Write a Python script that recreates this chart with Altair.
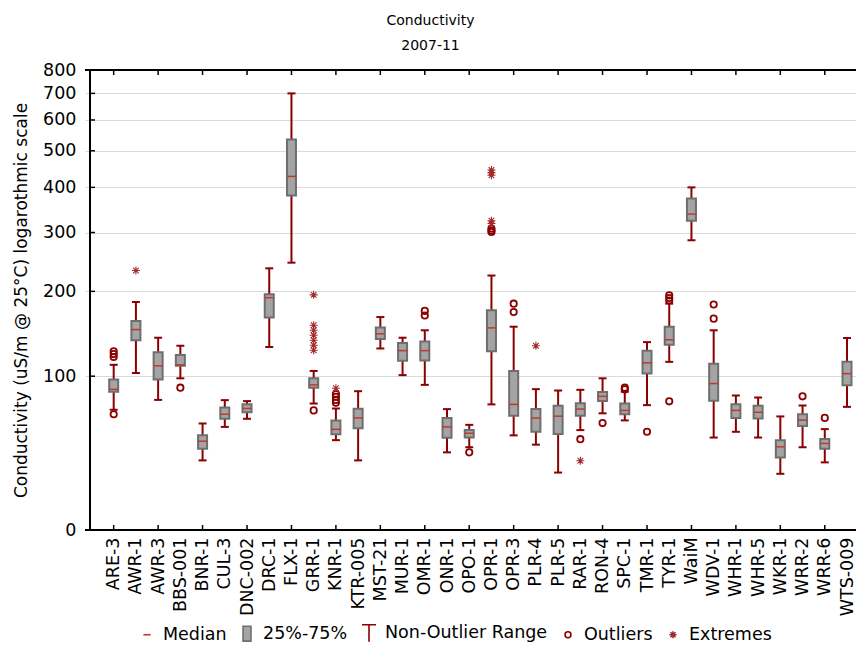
import altair as alt
import pandas as pd

# ---------------- data ----------------
cats = ["ARE-3", "AWR-1", "AWR-3", "BBS-001", "BNR-1", "CUL-3", "DNC-002", "DRC-1",
        "FLX-1", "GRR-1", "KNR-1", "KTR-005", "MST-21", "MUR-1", "OMR-1", "ONR-1",
        "OPO-1", "OPR-1", "OPR-3", "PLR-4", "PLR-5", "RAR-1", "RON-4", "SPC-1",
        "TMR-1", "TYR-1", "WaiM", "WDV-1", "WHR-1", "WHR-5", "WKR-1", "WRR-2",
        "WRR-6", "WTS-009"]

lo = [71, 103, 79, 98, 35.7, 58, 64, 129.6,
      245, 76, 48.7, 35.7, 128, 101, 92, 40.7,
      44, 75.3, 52, 45.7, 28.5, 55.7, 68.2, 62.8,
      74.7, 114, 285, 50.5, 54.5, 50.5, 27.8, 44,
      34.5, 73.3]
q1 = [86, 137, 97, 110, 43, 64, 69, 164.4,
      380, 89.5, 52.8, 57, 138.6, 115, 115.3, 50.3,
      50.5, 125, 66.3, 54.5, 53, 66.3, 78, 67.5,
      102.5, 132, 324, 78.3, 64.7, 64.2, 37.5, 58.6,
      43, 91.7]
med = [88, 149.5, 110, 111, 48, 67.5, 72, 191,
       428, 92, 56.2, 64.7, 144.5, 125.7, 125.7, 58,
       53.5, 151.6, 75.3, 64.5, 66, 71.5, 82, 70.5,
       113, 137.7, 338, 93.2, 70.5, 69, 44.3, 63,
       46.5, 102.4]
q3 = [97, 160, 124, 121, 52, 72.8, 75.4, 195.7,
      535, 98, 62.7, 71.7, 152, 134, 135.7, 64.7,
      55.7, 173.8, 105, 71.6, 74.1, 76.2, 85.8, 76,
      125.6, 153, 373, 112, 75.4, 74.1, 48.7, 67.5,
      49.5, 114]
hi = [111, 185, 140, 131, 60.5, 78.8, 78, 235.6,
      700, 105, 72, 86.4, 165, 140, 148.7, 71.5,
      59.5, 224, 153, 88.2, 87, 87.6, 98, 86,
      135, 182.7, 400, 148.7, 82.7, 81, 65.8, 74.4,
      56.4, 139.7]
outliers = [[125, 122, 119, 67.5], [], [], [89.5], [], [], [], [],
            [], [70.5], [84, 81.6, 79, 76.6], [], [], [], [173, 167], [],
            [40.7], [308, 304, 301], [182.7, 171.5], [], [], [49.4], [60.8], [89.5, 88],
            [54.5], [194.3, 190.5, 187, 77.8], [], [181.5, 163], [], [], [], [82],
            [64.7], []]
extremes = [[], [232], [], [], [], [], [], [],
            [], [195, 154.8, 148.7, 142.8, 137.1, 131.6, 126.1], [89], [], [], [], [], [],
            [], [445, 438, 431, 324, 318], [], [131], [], [35.5], [], [],
            [], [], [], [], [], [], [], [],
            [], []]

y_ticks = [0, 100, 200, 300, 400, 500, 600, 700, 800]
legend_items = ["Median", "25%-75%", "Non-Outlier Range", "Outliers", "Extremes"]

# ---------------- tables built from the arrays ----------------
box_df = pd.DataFrame({"idx": list(range(len(cats))), "site": cats,
                       "lo": lo, "q1": q1, "med": med, "q3": q3, "hi": hi})
out_df = pd.DataFrame([{"idx": i, "site": cats[i], "value": v}
                       for i, vs in enumerate(outliers) for v in vs])
ext_df = pd.DataFrame([{"idx": i, "site": cats[i], "value": v}
                       for i, vs in enumerate(extremes) for v in vs])
xtick_df = pd.DataFrame({"idx": list(range(0, len(cats), 2))})
ytick_df = pd.DataFrame({"v": y_ticks[1:-1]})
leg_df = pd.DataFrame({"item": legend_items})
frame_df = pd.DataFrame({"k": [0]})

# ---------------- styles ----------------
FONT = "DejaVu Sans"
DARK_RED = "#8b0000"
EXT_RED = "#a52a2a"
MED_RED = "#c0392b"
BOX_FILL = "#a4a4a4"
BOX_STROKE = "#6e6e6e"
ASTERISK = "M-1,0H1M0,-1V1M-0.7,-0.7L0.7,0.7M-0.7,0.7L0.7,-0.7"

xmin, xmax = -1.066, 33.18
xscale = alt.Scale(domain=[xmin, xmax], nice=False, zero=False)
yscale = alt.Scale(type="symlog", constant=83, domain=[0, 800], nice=False)

label_expr = "[" + ",".join("'%s'" % c for c in cats) + "][datum.value]"

x_axis = alt.Axis(values=list(range(len(cats))), labelExpr=label_expr, labelAngle=270,
                  labelFont=FONT, labelFontSize=17.5, labelColor="black", labelPadding=7,
                  labelOverlap=False, labelFlush=False, labelBound=False,
                  ticks=False, domain=False, grid=False, title=None)
y_axis = alt.Axis(values=y_ticks, format="d",
                  labelFont=FONT, labelFontSize=17.5, labelColor="black", labelPadding=9,
                  labelOverlap=False, labelFlush=False, labelBound=False,
                  ticks=False, domain=False,
                  grid=True, gridColor="#dadada", gridWidth=1.2,
                  title="Conductivity (uS/m @ 25°C) logarothmic scale",
                  titleFont=FONT, titleFontSize=17, titleFontWeight="normal",
                  titleColor="black", titlePadding=12)


def X():
    return alt.X("idx:Q", scale=xscale, axis=x_axis)


def Y(field):
    return alt.Y(field, type="quantitative", scale=yscale, axis=y_axis)


def YD(v):
    return alt.YDatum(v, type="quantitative", scale=yscale, axis=y_axis)


def XD(v):
    return alt.XDatum(v, type="quantitative", scale=xscale, axis=x_axis)


# frame (left, top, bottom) and inward ticks
frame_top = alt.Chart(frame_df).mark_rule(color="black", strokeWidth=2).encode(y=YD(800))
frame_bottom = alt.Chart(frame_df).mark_rule(color="black", strokeWidth=2).encode(y=YD(0))
frame_left = alt.Chart(frame_df).mark_rule(color="black", strokeWidth=2).encode(x=XD(xmin))
ticks_top = alt.Chart(xtick_df).mark_tick(orient="vertical", size=5, thickness=1.5,
                                          color="black", opacity=1, yOffset=2.5).encode(
    x=X(), y=YD(800))
ticks_bottom = alt.Chart(xtick_df).mark_tick(orient="vertical", size=5, thickness=1.5,
                                             color="black", opacity=1, yOffset=-2.5).encode(
    x=X(), y=YD(0))
ticks_left = alt.Chart(ytick_df).mark_tick(orient="horizontal", size=5, thickness=1.5,
                                           color="black", opacity=1, xOffset=2.5).encode(
    x=XD(xmin), y=Y("v"))

whisk = alt.Chart(box_df).mark_rule(color=DARK_RED, strokeWidth=2).encode(
    x=X(), y=Y("lo"), y2="hi")
cap_lo = alt.Chart(box_df).mark_tick(orient="horizontal", size=8, thickness=2,
                                     color=DARK_RED, opacity=1).encode(x=X(), y=Y("lo"))
cap_hi = alt.Chart(box_df).mark_tick(orient="horizontal", size=8, thickness=2,
                                     color=DARK_RED, opacity=1).encode(x=X(), y=Y("hi"))
boxes = alt.Chart(box_df).mark_bar(size=9, color=BOX_FILL, stroke=BOX_STROKE,
                                   strokeWidth=2, opacity=1).encode(
    x=X(), y=Y("q1"), y2="q3")
medians = alt.Chart(box_df).mark_tick(orient="horizontal", size=9, thickness=1.5,
                                      color=MED_RED, opacity=1).encode(x=X(), y=Y("med"))
outs = alt.Chart(out_df).mark_point(shape="circle", filled=False, size=40, strokeWidth=1.8,
                                    color=DARK_RED, opacity=1).encode(x=X(), y=Y("value"))
exts = alt.Chart(ext_df).mark_point(shape=ASTERISK, filled=False, size=64, strokeWidth=1.1,
                                    color=EXT_RED, opacity=1).encode(x=X(), y=Y("value"))

leg_paths = ["M-0.4,0H0.4",
             "M-0.44,-0.83H0.44V0.83H-0.44Z",
             "M-0.78,-0.94H0.78M0,-0.94V0.94",
             "M0.33,0A0.33,0.33,0,1,1,-0.33,0A0.33,0.33,0,1,1,0.33,0Z",
             "M-0.4,0H0.4M0,-0.4V0.4M-0.28,-0.28L0.28,0.28M-0.28,0.28L0.28,-0.28"]
leg_fill = ["transparent", BOX_FILL, "transparent", "transparent", "transparent"]
leg_stroke = [MED_RED, BOX_STROKE, DARK_RED, DARK_RED, EXT_RED]
legend = alt.Legend(orient="none", legendX=52, legendY=553, direction="horizontal",
                    title=None, labelFont=FONT, labelFontSize=17.5, labelColor="black",
                    labelLimit=0, symbolSize=324, symbolStrokeWidth=1.6, labelOffset=6,
                    columnPadding=10, symbolOpacity=1)
leg = alt.Chart(leg_df).mark_point(opacity=0).encode(
    shape=alt.Shape("item:N", sort=legend_items,
                    scale=alt.Scale(domain=legend_items, range=leg_paths), legend=legend),
    fill=alt.Fill("item:N", sort=legend_items,
                  scale=alt.Scale(domain=legend_items, range=leg_fill), legend=legend),
    stroke=alt.Stroke("item:N", sort=legend_items,
                      scale=alt.Scale(domain=legend_items, range=leg_stroke), legend=legend),
)

chart = alt.layer(
    frame_top, frame_bottom, frame_left, ticks_top, ticks_bottom, ticks_left,
    whisk, cap_lo, cap_hi, boxes, medians, outs, exts, leg
).properties(
    width=771, height=460,
    padding={"left": 77, "top": 62, "right": 0, "bottom": 114},
    autosize=alt.AutoSizeParams(type="none"),
    title=alt.TitleParams(["Conductivity", "2007-11"], font=FONT, fontSize=14,
                          fontWeight="normal", color="black", anchor="middle",
                          dx=-40, offset=8, lineHeight=25),
    background="white",
).configure_view(stroke=None)

chart.save("out.html", embed_options={"renderer": "svg", "actions": False})
